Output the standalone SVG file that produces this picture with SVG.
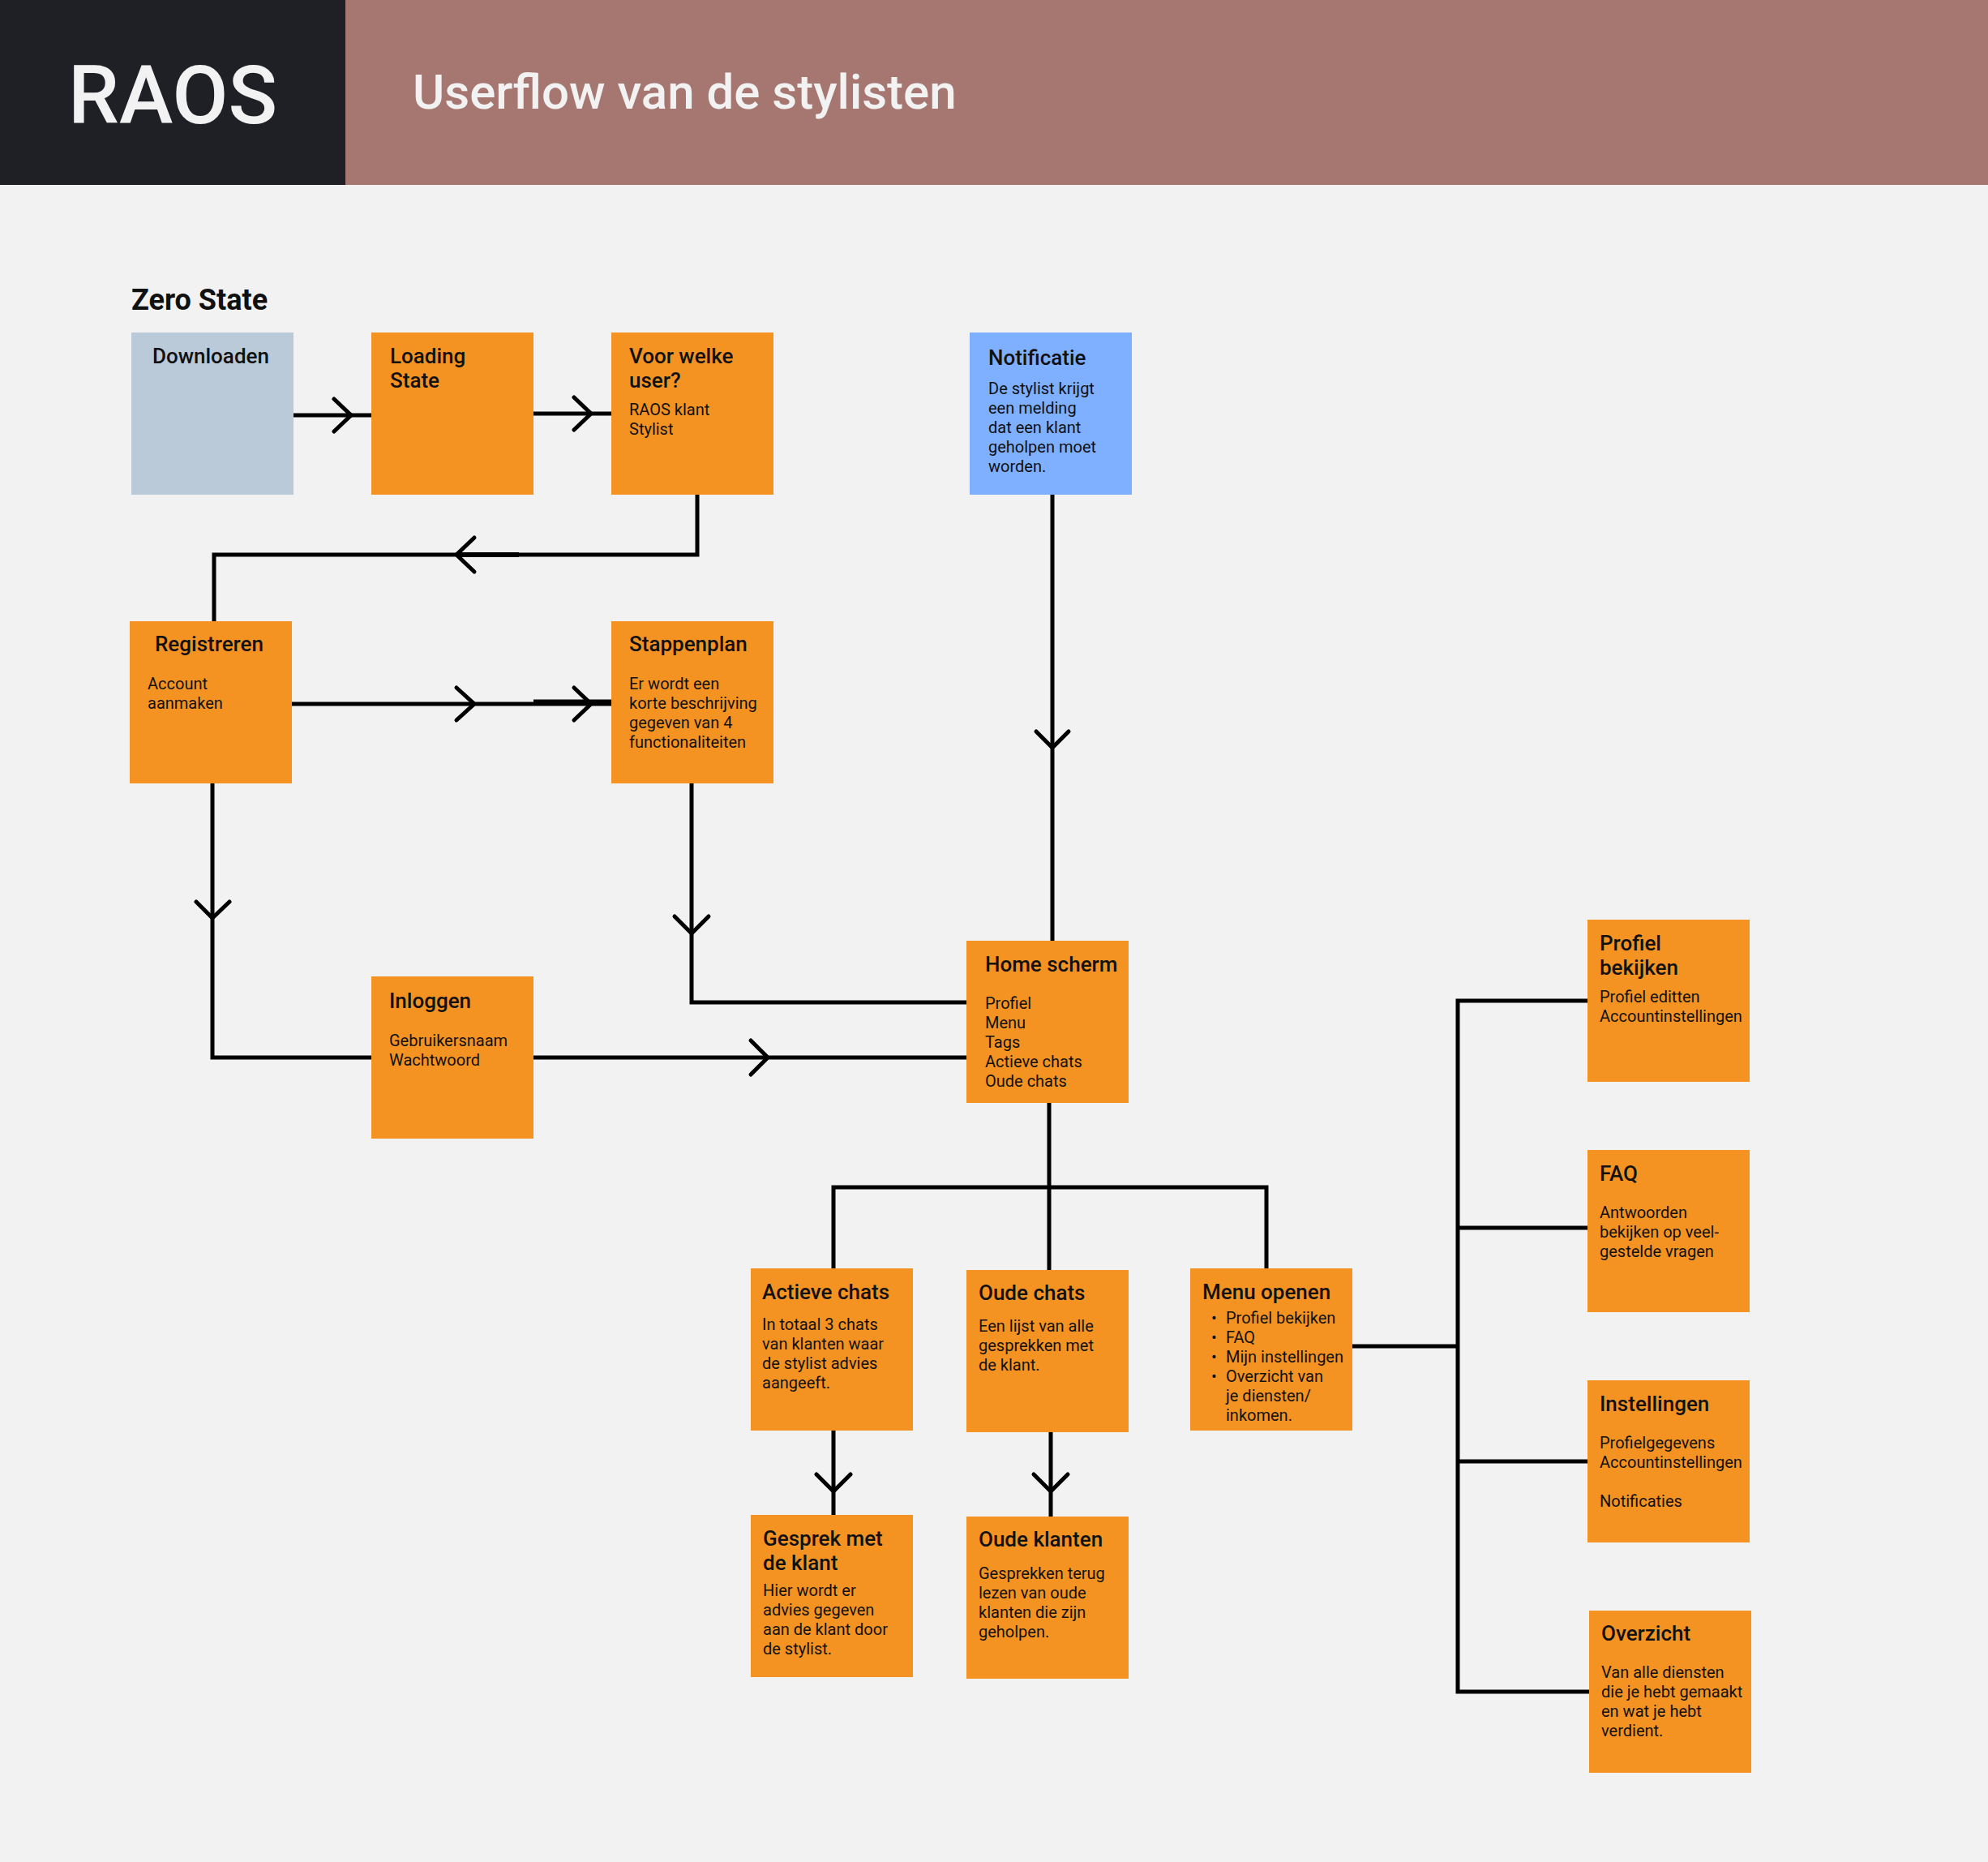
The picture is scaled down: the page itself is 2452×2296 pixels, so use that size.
<svg xmlns="http://www.w3.org/2000/svg" width="2452" height="2296" viewBox="0 0 2452 2296">
<defs>
<style>
.t{font-family:Roboto,"Liberation Sans",sans-serif;font-weight:500;font-size:26px;fill:#111}
.b{font-family:Roboto,"Liberation Sans",sans-serif;font-weight:400;font-size:20px;fill:#111}
.o{fill:#F59322}
.ln{fill:none;stroke:#000;stroke-width:5}
.ch{fill:none;stroke:#000;stroke-width:5;stroke-linecap:round;stroke-linejoin:miter}
</style>
</defs>
<rect x="0" y="0" width="2452" height="2296" fill="#F2F2F2"/>
<g id="header">
<rect x="0" y="0" width="426" height="228" fill="#1E2025"/>
<rect x="426" y="0" width="2026" height="228" fill="#A67671"/>
<text x="84" y="152" font-family="Roboto,'Liberation Sans',sans-serif" font-weight="500" font-size="100" fill="#F2F2F2">RAOS</text>
<text x="509" y="134" font-family="Roboto,'Liberation Sans',sans-serif" font-weight="500" font-size="60" fill="#F2F2F2">Userflow van de stylisten</text>
</g>
<text id="zero-state" x="162" y="382" font-family="Roboto,'Liberation Sans',sans-serif" font-weight="700" font-size="36" fill="#111">Zero State</text>
<g id="connectors">
<path class="ln" d="M362 512H458"/>
<polyline class="ch" points="412,492 433,512 412,532"/>
<path class="ln" d="M658 510H754"/>
<polyline class="ch" points="708,490 729,510 708,530"/>
<path class="ln" d="M860 610V684H264V766"/>
<path d="M563 684H640" stroke="#000" stroke-width="6"/>
<polyline class="ch" points="585,663 563,684 585,705"/>
<path class="ln" d="M360 868H754"/>
<path d="M658 866H754" stroke="#000" stroke-width="7"/>
<polyline class="ch" points="563,848 585,868 563,888"/>
<polyline class="ch" points="708,848 729,868 708,888"/>
<path class="ln" d="M262 966V1304H458"/>
<polyline class="ch" points="242,1112 262,1132 283,1112"/>
<path class="ln" d="M658 1304H1192"/>
<polyline class="ch" points="926,1283 947,1304 926,1325"/>
<path class="ln" d="M853 966V1236H1192"/>
<polyline class="ch" points="832,1130 853,1151 874,1130"/>
<path class="ln" d="M1298 610V1160"/>
<polyline class="ch" points="1278,902 1298,922 1318,902"/>
<path class="ln" d="M1294 1360V1566"/>
<path class="ln" d="M1028 1564V1464H1562V1564"/>
<path class="ln" d="M1028 1764V1868"/>
<polyline class="ch" points="1007,1818 1028,1839 1049,1818"/>
<path class="ln" d="M1296 1766V1870"/>
<polyline class="ch" points="1275,1818 1296,1839 1317,1818"/>
<path class="ln" d="M1668 1660H1798"/>
<path class="ln" d="M1958 1234H1798V2086H1960"/>
<path class="ln" d="M1798 1514H1958"/>
<path class="ln" d="M1798 1802H1958"/>
</g>
<g id="downloaden">
<rect x="162" y="410" width="200" height="200" fill="#BBCAD9"/>
<text class="t" x="188" y="448">Downloaden</text>
</g>
<g id="loading-state">
<rect class="o" x="458" y="410" width="200" height="200"/>
<text class="t" x="481" y="448">Loading</text>
<text class="t" x="481" y="478">State</text>
</g>
<g id="voor-welke-user">
<rect class="o" x="754" y="410" width="200" height="200"/>
<text class="t" x="776" y="448">Voor welke</text>
<text class="t" x="776" y="478">user?</text>
<text class="b" x="776" y="512">RAOS klant</text>
<text class="b" x="776" y="536">Stylist</text>
</g>
<g id="notificatie">
<rect x="1196" y="410" width="200" height="200" fill="#7FAFFF"/>
<text class="t" x="1219" y="450">Notificatie</text>
<text class="b" x="1219" y="486">De stylist krijgt</text>
<text class="b" x="1219" y="510">een melding</text>
<text class="b" x="1219" y="534">dat een klant</text>
<text class="b" x="1219" y="558">geholpen moet</text>
<text class="b" x="1219" y="582">worden.</text>
</g>
<g id="registreren">
<rect class="o" x="160" y="766" width="200" height="200"/>
<text class="t" x="191" y="803">Registreren</text>
<text class="b" x="182" y="850">Account</text>
<text class="b" x="182" y="874">aanmaken</text>
</g>
<g id="stappenplan">
<rect class="o" x="754" y="766" width="200" height="200"/>
<text class="t" x="776" y="803">Stappenplan</text>
<text class="b" x="776" y="850">Er wordt een</text>
<text class="b" x="776" y="874">korte beschrijving</text>
<text class="b" x="776" y="898">gegeven van 4</text>
<text class="b" x="776" y="922">functionaliteiten</text>
</g>
<g id="inloggen">
<rect class="o" x="458" y="1204" width="200" height="200"/>
<text class="t" x="480" y="1243">Inloggen</text>
<text class="b" x="480" y="1290">Gebruikersnaam</text>
<text class="b" x="480" y="1314">Wachtwoord</text>
</g>
<g id="home-scherm">
<rect class="o" x="1192" y="1160" width="200" height="200"/>
<text class="t" x="1215" y="1198">Home scherm</text>
<text class="b" x="1215" y="1244">Profiel</text>
<text class="b" x="1215" y="1268">Menu</text>
<text class="b" x="1215" y="1292">Tags</text>
<text class="b" x="1215" y="1316">Actieve chats</text>
<text class="b" x="1215" y="1340">Oude chats</text>
</g>
<g id="actieve-chats">
<rect class="o" x="926" y="1564" width="200" height="200"/>
<text class="t" x="940" y="1602">Actieve chats</text>
<text class="b" x="940" y="1640">In totaal 3 chats</text>
<text class="b" x="940" y="1664">van klanten waar</text>
<text class="b" x="940" y="1688">de stylist advies</text>
<text class="b" x="940" y="1712">aangeeft.</text>
</g>
<g id="oude-chats">
<rect class="o" x="1192" y="1566" width="200" height="200"/>
<text class="t" x="1207" y="1603">Oude chats</text>
<text class="b" x="1207" y="1642">Een lijst van alle</text>
<text class="b" x="1207" y="1666">gesprekken met</text>
<text class="b" x="1207" y="1690">de klant.</text>
</g>
<g id="menu-openen">
<rect class="o" x="1468" y="1564" width="200" height="200"/>
<text class="t" x="1483" y="1602">Menu openen</text>
<text class="b" x="1494" y="1632">•</text><text class="b" x="1512" y="1632">Profiel bekijken</text>
<text class="b" x="1494" y="1656">•</text><text class="b" x="1512" y="1656">FAQ</text>
<text class="b" x="1494" y="1680">•</text><text class="b" x="1512" y="1680">Mijn instellingen</text>
<text class="b" x="1494" y="1704">•</text><text class="b" x="1512" y="1704">Overzicht van</text>
<text class="b" x="1512" y="1728">je diensten/</text>
<text class="b" x="1512" y="1752">inkomen.</text>
</g>
<g id="gesprek-met-de-klant">
<rect class="o" x="926" y="1868" width="200" height="200"/>
<text class="t" x="941" y="1906">Gesprek met</text>
<text class="t" x="941" y="1936">de klant</text>
<text class="b" x="941" y="1968">Hier wordt er</text>
<text class="b" x="941" y="1992">advies gegeven</text>
<text class="b" x="941" y="2016">aan de klant door</text>
<text class="b" x="941" y="2040">de stylist.</text>
</g>
<g id="oude-klanten">
<rect class="o" x="1192" y="1870" width="200" height="200"/>
<text class="t" x="1207" y="1907">Oude klanten</text>
<text class="b" x="1207" y="1947">Gesprekken terug</text>
<text class="b" x="1207" y="1971">lezen van oude</text>
<text class="b" x="1207" y="1995">klanten die zijn</text>
<text class="b" x="1207" y="2019">geholpen.</text>
</g>
<g id="profiel-bekijken">
<rect class="o" x="1958" y="1134" width="200" height="200"/>
<text class="t" x="1973" y="1172">Profiel</text>
<text class="t" x="1973" y="1202">bekijken</text>
<text class="b" x="1973" y="1236">Profiel editten</text>
<text class="b" x="1973" y="1260">Accountinstellingen</text>
</g>
<g id="faq">
<rect class="o" x="1958" y="1418" width="200" height="200"/>
<text class="t" x="1973" y="1456">FAQ</text>
<text class="b" x="1973" y="1502">Antwoorden</text>
<text class="b" x="1973" y="1526">bekijken op veel-</text>
<text class="b" x="1973" y="1550">gestelde vragen</text>
</g>
<g id="instellingen">
<rect class="o" x="1958" y="1702" width="200" height="200"/>
<text class="t" x="1973" y="1740">Instellingen</text>
<text class="b" x="1973" y="1786">Profielgegevens</text>
<text class="b" x="1973" y="1810">Accountinstellingen</text>
<text class="b" x="1973" y="1858">Notificaties</text>
</g>
<g id="overzicht">
<rect class="o" x="1960" y="1986" width="200" height="200"/>
<text class="t" x="1975" y="2023">Overzicht</text>
<text class="b" x="1975" y="2069">Van alle diensten</text>
<text class="b" x="1975" y="2093">die je hebt gemaakt</text>
<text class="b" x="1975" y="2117">en wat je hebt</text>
<text class="b" x="1975" y="2141">verdient.</text>
</g>
</svg>
